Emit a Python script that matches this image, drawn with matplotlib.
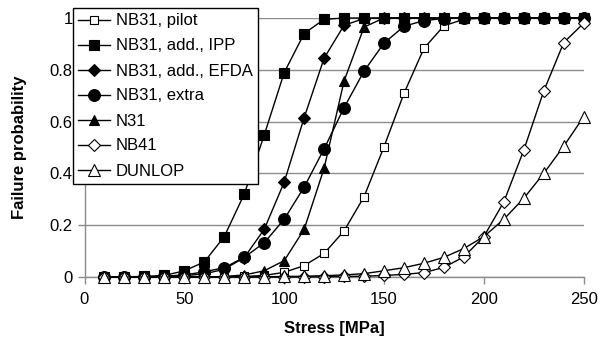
import matplotlib
matplotlib.use("Agg")
import matplotlib.pyplot as plt
import numpy as np

plt.rcParams["font.family"] = ["Liberation Sans", "DejaVu Sans"]

stress = np.arange(10, 260, 10)

pilot = [0, 0, 0, 0, 0, 0, 0.001, 0.002, 0.006, 0.018, 0.044, 0.091, 0.178, 0.31,
         0.503, 0.709, 0.883, 0.97, 0.995, 1, 1, 1, 1, 1, 1]
add_ipp = [0, 0.001, 0.002, 0.006, 0.024, 0.058, 0.156, 0.32, 0.548, 0.789, 0.94,
           0.995, 1, 1, 1, 1, 1, 1, 1, 1, 1, 1, 1, 1, 1]
add_efda = [0, 0, 0.001, 0.002, 0.005, 0.012, 0.03, 0.075, 0.184, 0.366, 0.615,
            0.845, 0.972, 0.998, 1, 1, 1, 1, 1, 1, 1, 1, 1, 1, 1]
extra = [0, 0, 0.001, 0.003, 0.008, 0.02, 0.036, 0.076, 0.132, 0.223, 0.347, 0.495,
         0.654, 0.795, 0.903, 0.968, 0.99, 0.998, 1, 1, 1, 1, 1, 1, 1]
n31 = [0, 0, 0, 0, 0, 0, 0.002, 0.008, 0.024, 0.063, 0.184, 0.42, 0.757, 0.965,
       1, 1, 1, 1, 1, 1, 1, 1, 1, 1, 1]
nb41 = [0, 0, 0, 0, 0, 0, 0, 0, 0, 0, 0, 0.001, 0.002, 0.003, 0.006, 0.01, 0.017,
        0.037, 0.078, 0.156, 0.29, 0.49, 0.718, 0.905, 0.98]
dunlop = [0, 0, 0, 0, 0, 0, 0, 0, 0.001, 0.002, 0.003, 0.005, 0.008, 0.013, 0.024,
          0.036, 0.053, 0.076, 0.11, 0.156, 0.223, 0.304, 0.4, 0.505, 0.619]

labels = ["NB31, pilot", "NB31, add., IPP", "NB31, add., EFDA", "NB31, extra",
          "N31", "NB41", "DUNLOP"]
series = [pilot, add_ipp, add_efda, extra, n31, nb41, dunlop]
markers = ["s", "s", "D", "o", "^", "D", "^"]
faces = ["white", "black", "black", "black", "black", "white", "white"]
sizes = [6, 7, 6, 8.5, 7.5, 6, 8]

fig = plt.figure(figsize=(5.99, 3.54), dpi=100)
ax = fig.add_axes([84.5 / 599, 1 - 277 / 354, 499.2 / 599, 259 / 354])

handles = []
for ys, lab, m, fc, ms in zip(series, labels, markers, faces, sizes):
    h, = ax.plot(stress, ys, color="black", lw=1, marker=m, ms=ms,
                 markerfacecolor=fc, markeredgecolor="black", mew=0.8,
                 label=lab, clip_on=False, zorder=3)
    handles.append(h)

ax.set_xlim(0, 250)
ax.set_ylim(0, 1)
ax.set_xticks(np.arange(0, 251, 50))
ax.set_yticks([0, 0.2, 0.4, 0.6, 0.8, 1])
ax.set_yticklabels(["0", "0.2", "0.4", "0.6", "0.8", "1"])
ax.yaxis.grid(True, color="#8c8c8c", lw=1)
ax.set_axisbelow(True)
for s in ["top", "right"]:
    ax.spines[s].set_visible(False)
for s in ["left", "bottom"]:
    ax.spines[s].set_color("#8c8c8c")
    ax.spines[s].set_linewidth(1)
ax.tick_params(colors="#8c8c8c", labelcolor="black", labelsize=12, length=5,
               width=1, direction="out")
ax.tick_params(axis="x", pad=6)
ax.set_xlabel("Stress [MPa]", fontsize=12, fontweight="bold", labelpad=10)
ax.set_ylabel("Failure probability", fontsize=12, fontweight="bold", labelpad=16)

leg = fig.legend(handles=handles, loc="upper left",
                 bbox_to_anchor=(72.7 / 599, 1 - 8 / 354),
                 bbox_transform=fig.transFigure, borderaxespad=0,
                 fontsize=12, frameon=True, fancybox=False, edgecolor="black",
                 framealpha=1, handlelength=1.9, handletextpad=0.34,
                 labelspacing=0.6, borderpad=0.33)
leg.get_frame().set_linewidth(1)
leg.set_zorder(10)

fig.savefig("out.png", dpi=100)
